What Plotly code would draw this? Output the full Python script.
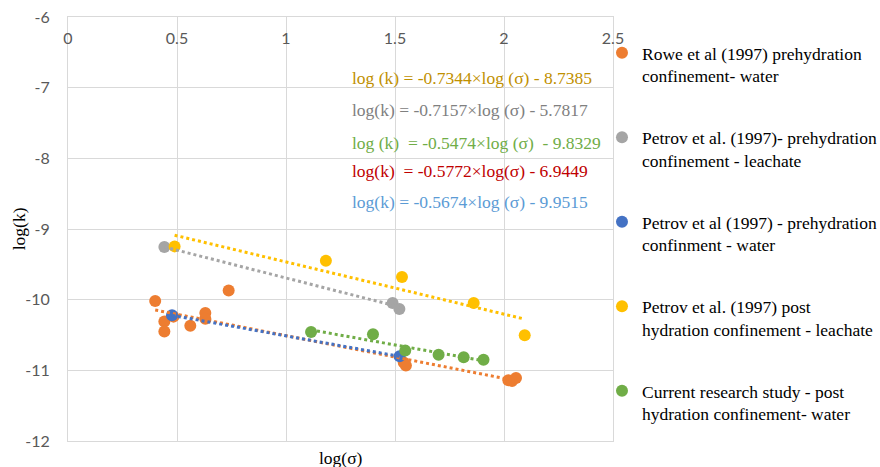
import numpy as np
import plotly.graph_objects as go

# ---------------- data ----------------
series_names = [
    "Rowe et al (1997) prehydration<br>confinement- water",
    "Petrov et al. (1997)- prehydration<br>confinement - leachate",
    "Petrov et al (1997) - prehydration<br>confinment - water",
    "Petrov et al. (1997) post<br>hydration confinement - leachate",
    "Current research study - post<br>hydration confinement- water",
]
series_colors = ["#ED7D31", "#A5A5A5", "#4472C4", "#FFC000", "#70AD47"]

rowe_x = [0.400, 0.442, 0.442, 0.484, 0.561, 0.630, 0.630, 0.737, 1.540, 1.550, 2.020, 2.037, 2.055]
rowe_y = [-10.02, -10.31, -10.45, -10.24, -10.37, -10.19, -10.27, -9.87, -10.89, -10.93, -11.14, -11.15, -11.11]

petrov_pre_leach_x = [0.442, 1.489, 1.520]
petrov_pre_leach_y = [-9.255, -10.047, -10.132]

petrov_pre_water_x = [0.477, 1.521]
petrov_pre_water_y = [-10.222, -10.802]

petrov_post_leach_x = [0.489, 1.183, 1.532, 1.861, 2.095]
petrov_post_leach_y = [-9.246, -9.448, -9.680, -10.047, -10.505]

current_x = [1.115, 1.399, 1.547, 1.700, 1.815, 1.906]
current_y = [-10.457, -10.490, -10.721, -10.778, -10.816, -10.849]

series_x = [rowe_x, petrov_pre_leach_x, petrov_pre_water_x, petrov_post_leach_x, current_x]
series_y = [rowe_y, petrov_pre_leach_y, petrov_pre_water_y, petrov_post_leach_y, current_y]

equations = [
    "log (k) = -0.7344×log (σ) - 8.7385",
    "log(k) = -0.7157×log (σ) - 5.7817",
    "log (k) \u00a0= -0.5474×log (σ) \u00a0- 9.8329",
    "log(k) \u00a0= -0.5772×log(σ) - 6.9449",
    "log(k) = -0.5674×log (σ) - 9.9515",
]
equation_colors = ["#BF9000", "#808080", "#70AD47", "#C00000", "#5B9BD5"]

x_ticks = [0, 0.5, 1, 1.5, 2, 2.5]
x_ticktext = ["0", "0.5", "1", "1.5", "2", "2.5"]
y_ticks = [-12, -11, -10, -9, -8, -7, -6]
y_ticktext = ["-12", "-11", "-10", "-9", "-8", "-7", "-6"]

# ---------------- figure ----------------
SERIF = "Liberation Serif"
SANS = "Lato"

fig = go.Figure()

for name, xs, ys, c in zip(series_names, series_x, series_y, series_colors):
    fig.add_trace(go.Scatter(
        x=xs, y=ys, mode="markers", name=name, legendgroup=name,
        marker=dict(color=c, size=12, line=dict(width=0)),
    ))

for xs, ys, c in zip(series_x, series_y, series_colors):
    m, b = np.polyfit(xs, ys, 1)
    xl = [min(xs), max(xs)]
    fig.add_trace(go.Scatter(
        x=xl, y=[m * v + b for v in xl], mode="lines",
        line=dict(color=c, width=3, dash="dot"),
        showlegend=False, hoverinfo="skip",
    ))

# empty helper trace so the top tick-label axis (x2) is drawn
fig.add_trace(go.Scatter(
    x=x_ticks, y=[None] * len(x_ticks), xaxis="x2", yaxis="y",
    mode="markers", showlegend=False, hoverinfo="skip",
))

eq_y = [0.8563, 0.780, 0.7027, 0.636, 0.563]
for txt, col, yy in zip(equations, equation_colors, eq_y):
    fig.add_annotation(
        x=0.517, y=yy, xref="paper", yref="paper", xanchor="left", yanchor="middle",
        text=txt, showarrow=False, font=dict(family=SERIF, size=17.5, color=col),
    )

fig.add_annotation(
    x=0.5, y=-0.039, xref="paper", yref="paper", xanchor="center", yanchor="middle",
    text="log(σ)", showarrow=False, font=dict(family=SERIF, size=17.5, color="black"),
)
fig.add_annotation(
    x=-0.0894, y=0.5, xref="paper", yref="paper", xanchor="center", yanchor="middle",
    text="log(k)", textangle=-90, showarrow=False,
    font=dict(family=SERIF, size=17.5, color="black"),
)

grid = "#D9D9D9"
tickfont = dict(family=SANS, size=16, color="#595959")

fig.update_layout(
    width=880, height=467,
    margin=dict(l=68, r=267, t=17, b=26, autoexpand=False),
    paper_bgcolor="white", plot_bgcolor="white",
    xaxis=dict(
        range=[0, 2.5], tickvals=x_ticks, showticklabels=False, ticks="",
        showgrid=True, gridcolor=grid, gridwidth=1,
        showline=True, linecolor=grid, linewidth=1, mirror=True,
        zeroline=False,
    ),
    xaxis2=dict(
        range=[0, 2.5], tickvals=x_ticks, ticktext=x_ticktext,
        overlaying="x", anchor="free", position=1, side="bottom",
        ticks="", ticklabelstandoff=10, showgrid=False, showline=False,
        zeroline=False, tickfont=tickfont,
    ),
    yaxis=dict(
        range=[-12, -6], tickvals=y_ticks, ticktext=y_ticktext,
        ticks="", ticklabelstandoff=14,
        showgrid=True, gridcolor=grid, gridwidth=1,
        showline=True, linecolor=grid, linewidth=1, mirror=True,
        zeroline=False, tickfont=tickfont,
    ),
    legend=dict(
        x=0.9798, y=0.958, xanchor="left", yanchor="top",
        font=dict(family=SERIF, size=17.5, color="black"),
        valign="top", tracegroupgap=36, bgcolor="rgba(0,0,0,0)",
        itemsizing="constant",
    ),
    showlegend=True,
)

fig.write_html(
    "out.html",
    config={"displayModeBar": False},
    post_script="document.body.style.margin='0';",
)
